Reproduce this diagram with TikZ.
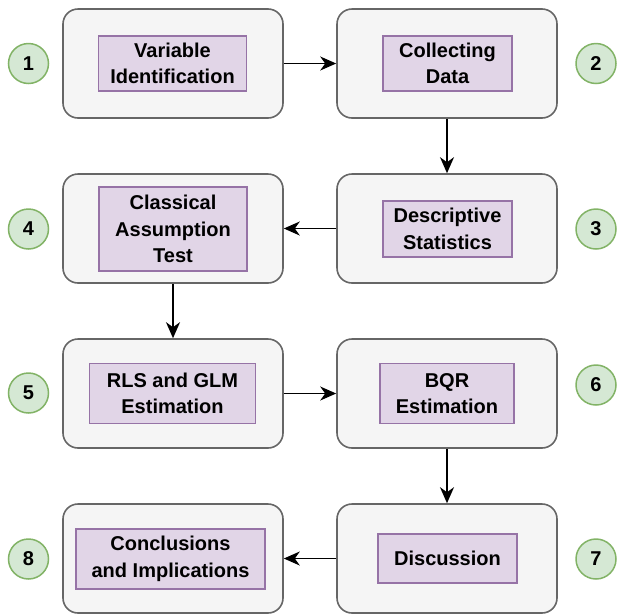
\documentclass[tikz,border=0pt]{standalone}
\usepackage{fontspec}
\setmainfont{Liberation Sans}
\usetikzlibrary{arrows.meta}
\definecolor{outerfill}{HTML}{F5F5F5}
\definecolor{outerline}{HTML}{666666}
\definecolor{innerfill}{HTML}{E1D5E7}
\definecolor{innerline}{HTML}{9673A6}
\definecolor{circfill}{HTML}{D5E8D4}
\definecolor{circline}{HTML}{82B366}
\tikzset{
  outerbox/.style={draw=outerline, fill=outerfill, line width=1.6pt, rounded corners=15pt},
  innerbox/.style={draw=innerline, fill=innerfill, line width=1.5pt},
  lbl/.style={align=center, font=\fontsize{20}{26.5}\selectfont\bfseries, inner sep=0pt},
  numcirc/.style={circle, draw=circline, fill=circfill, line width=1.5pt, minimum size=40pt, inner sep=0pt, font=\fontsize{20}{24}\selectfont\bfseries},
  flow/.style={-{Stealth[length=16pt,width=14pt,inset=5pt]}, line width=1.6pt, black}
}
\begin{document}
\begin{tikzpicture}[x=1pt,y=-1pt]
\useasboundingbox (0,0) rectangle (617,614);
% outer boxes
\node[outerbox, minimum width=220pt, minimum height=109pt] (b1) at (173,63.5) {};
\node[outerbox, minimum width=220pt, minimum height=109pt] (b2) at (447,63.5) {};
\node[outerbox, minimum width=220pt, minimum height=109pt] (b4) at (173,228.5) {};
\node[outerbox, minimum width=220pt, minimum height=109pt] (b3) at (447,228.5) {};
\node[outerbox, minimum width=220pt, minimum height=109pt] (b5) at (173,393.5) {};
\node[outerbox, minimum width=220pt, minimum height=109pt] (b6) at (447,393.5) {};
\node[outerbox, minimum width=220pt, minimum height=109pt] (b8) at (173,558.5) {};
\node[outerbox, minimum width=220pt, minimum height=109pt] (b7) at (447,558.5) {};
% inner boxes
\node[innerbox, minimum width=148pt, minimum height=55pt] (i1) at (172.5,63.5) {};
\node[lbl] (t1) at (i1) {Variable\\Identification};
\node[innerbox, minimum width=129pt, minimum height=55pt] (i2) at (447.5,63.5) {};
\node[lbl] (t2) at (i2) {Collecting\\Data};
\node[innerbox, minimum width=129pt, minimum height=56pt] (i3) at (447.5,229) {};
\node[lbl] (t3) at (i3) {Descriptive\\Statistics};
\node[innerbox, minimum width=148pt, minimum height=84pt] (i4) at (173,229) {};
\node[lbl] (t4) at (i4) {Classical\\Assumption\\Test};
\node[innerbox, minimum width=166pt, minimum height=60pt] (i5) at (172.5,393.5) {};
\node[lbl] (t5) at (i5) {RLS and GLM\\Estimation};
\node[innerbox, minimum width=134pt, minimum height=60pt] (i6) at (447,393.5) {};
\node[lbl] (t6) at (i6) {BQR\\Estimation};
\node[innerbox, minimum width=189pt, minimum height=60pt] (i8) at (170.5,559) {};
\node[lbl] (t8) at (i8) {Conclusions\\and Implications};
\node[innerbox, minimum width=139pt, minimum height=49pt] (i7) at (447.5,558.5) {};
\node[lbl] (t7) at (i7) {Discussion};
% number circles
\node[numcirc] (c1) at (28.5,63.5) {1};
\node[numcirc] (c2) at (596,63.5) {2};
\node[numcirc] (c4) at (28.5,229) {4};
\node[numcirc] (c3) at (596,229) {3};
\node[numcirc] (c5) at (28.5,393) {5};
\node[numcirc] (c6) at (596,385) {6};
\node[numcirc] (c8) at (28.5,559) {8};
\node[numcirc] (c7) at (596,559) {7};
% connectors
\draw[flow] (b1.east) -- (b2.west);
\draw[flow] (b2.south) -- (b3.north);
\draw[flow] (b3.west) -- (b4.east);
\draw[flow] (b4.south) -- (b5.north);
\draw[flow] (b5.east) -- (b6.west);
\draw[flow] (b6.south) -- (b7.north);
\draw[flow] (b7.west) -- (b8.east);
\end{tikzpicture}
\end{document}
